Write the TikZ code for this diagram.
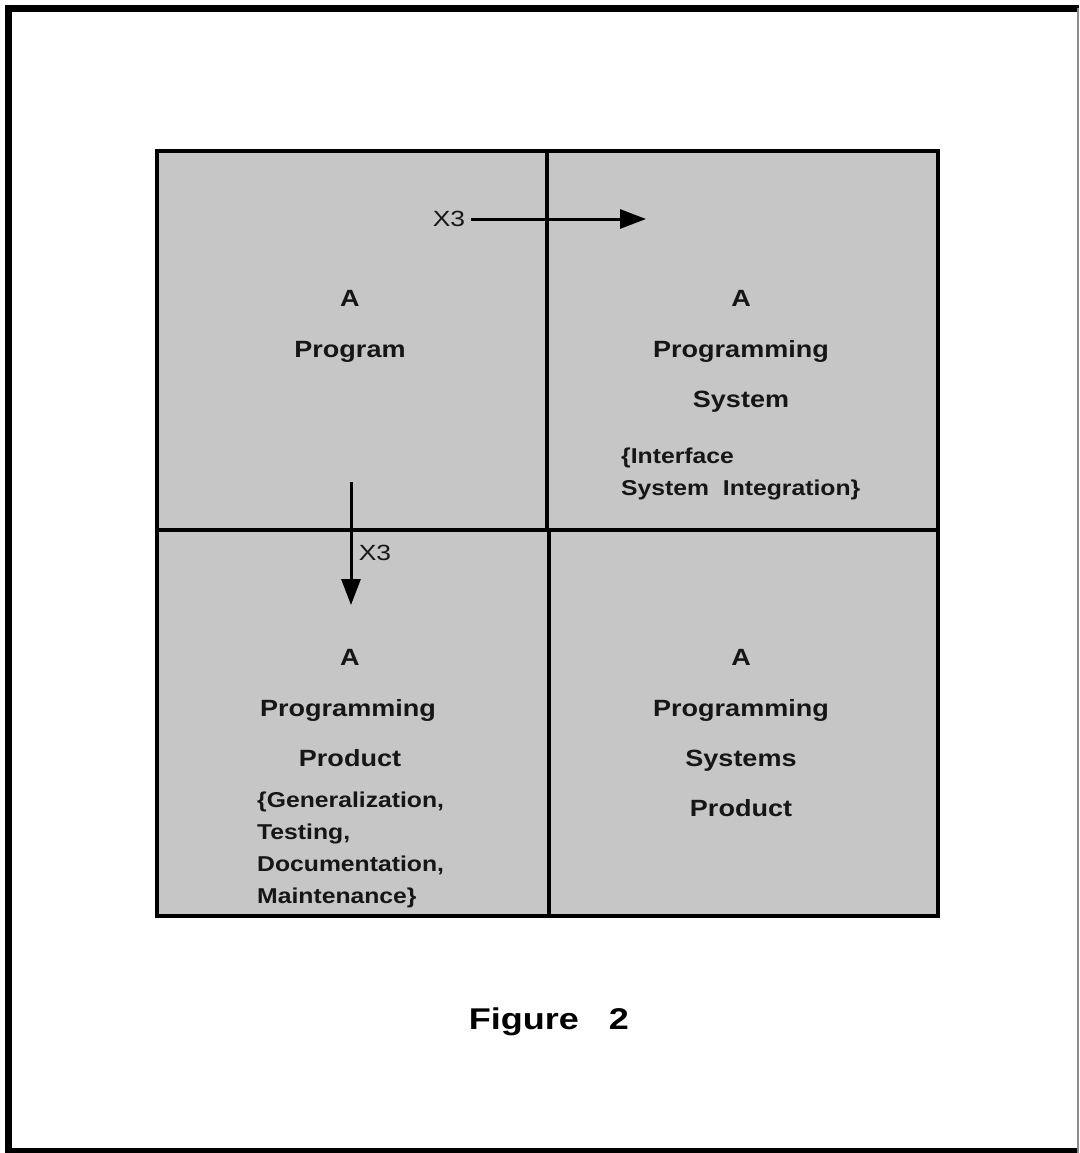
\documentclass[tikz,border=0pt]{standalone}
\usepackage{fontspec}
\setmainfont{Liberation Sans Bold}[FakeStretch=1.15]
\newfontfamily\captionfont{Liberation Sans Bold}[FakeStretch=1.2]
\newfontfamily\factorfont{Liberation Sans}[FakeStretch=1.2]
\usetikzlibrary{arrows.meta}

\definecolor{screen}{RGB}{198,198,198}
\definecolor{ink}{RGB}{22,22,22}

\tikzset{
  big/.style={font=\fontsize{23.5}{28}\selectfont, anchor=base, inner sep=0pt, text=ink},
  small/.style={font=\fontsize{21.5}{32}\selectfont, anchor=base west, inner sep=0pt,
                align=left, text=ink},
  factor/.style={font=\factorfont\fontsize{22}{26}\selectfont, inner sep=0pt, text=ink},
  grid/.style={line width=4pt, black},
  frame/.style={line width=7pt, black},
  growth/.style={line width=3pt, -{Triangle[length=26pt,width=19pt]}},
}

\begin{document}
\begin{tikzpicture}[x=1pt, y=-1pt]
  % page and outer frame
  \fill[white] (0,0) rectangle (1079,1153);
  \useasboundingbox (0,0) rectangle (1079,1153);
  \draw[frame] (8.5,1153) -- (8.5,8.5) -- (1079,8.5);
  \draw[frame, line width=6pt] (5,1150.5) -- (1079,1150.5);
  \draw[line width=2pt, black!45] (1077.5,8) -- (1077.5,1153);

  % the four quadrants
  \fill[screen] (157,151) rectangle (938,916);
  \draw[grid] (547,151) -- (547,530);
  \draw[grid] (549,530) -- (549,916);
  \draw[grid] (157,530) -- (938,530);
  \draw[grid] (157,151) rectangle (938,916);

  % top left
  \node[big] (tlA) at (350,306) {A};
  \node[big] (tlB) at (350,357) {Program};

  % top right
  \node[big] (trA) at (741,306) {A};
  \node[big] (trB) at (741,357) {Programming};
  \node[big] (trC) at (741,407) {System};
  \node[small] (trD) at (621,463) {\{Interface};
  \node[small] (trE) at (621,495) {System\ \ Integration\}};

  % bottom left
  \node[big] (blA) at (350,665) {A};
  \node[big] (blB) at (348,716) {Programming};
  \node[big] (blC) at (350,766) {Product};
  \node[small] (blD) at (257,807) {\{Generalization,};
  \node[small] (blE) at (257,839) {Testing,};
  \node[small] (blF) at (257,871) {Documentation,};
  \node[small] (blG) at (257,903) {Maintenance\}};

  % bottom right
  \node[big] (brA) at (741,665) {A};
  \node[big] (brB) at (741,716) {Programming};
  \node[big] (brC) at (741,766) {Systems};
  \node[big] (brD) at (741,816) {Product};

  % growth arrows
  \node[factor] (xr) at (449,219) {X3};
  \path (xr.east) ++(6,0) coordinate (xrStart);
  \coordinate (xrEnd) at (646,219);
  \draw[growth] (xrStart) -- (xrEnd);

  \coordinate (xdStart) at (351,482);
  \coordinate (xdEnd) at (351,605);
  \draw[growth] (xdStart) -- (xdEnd);
  \node[factor] (xd) at (375,553) {X3};

  % caption
  \node[font=\captionfont\fontsize{30}{36}\selectfont, anchor=base,
        inner sep=0pt] (cap) at (549,1029) {Figure\ \ \ 2};
\end{tikzpicture}
\end{document}
